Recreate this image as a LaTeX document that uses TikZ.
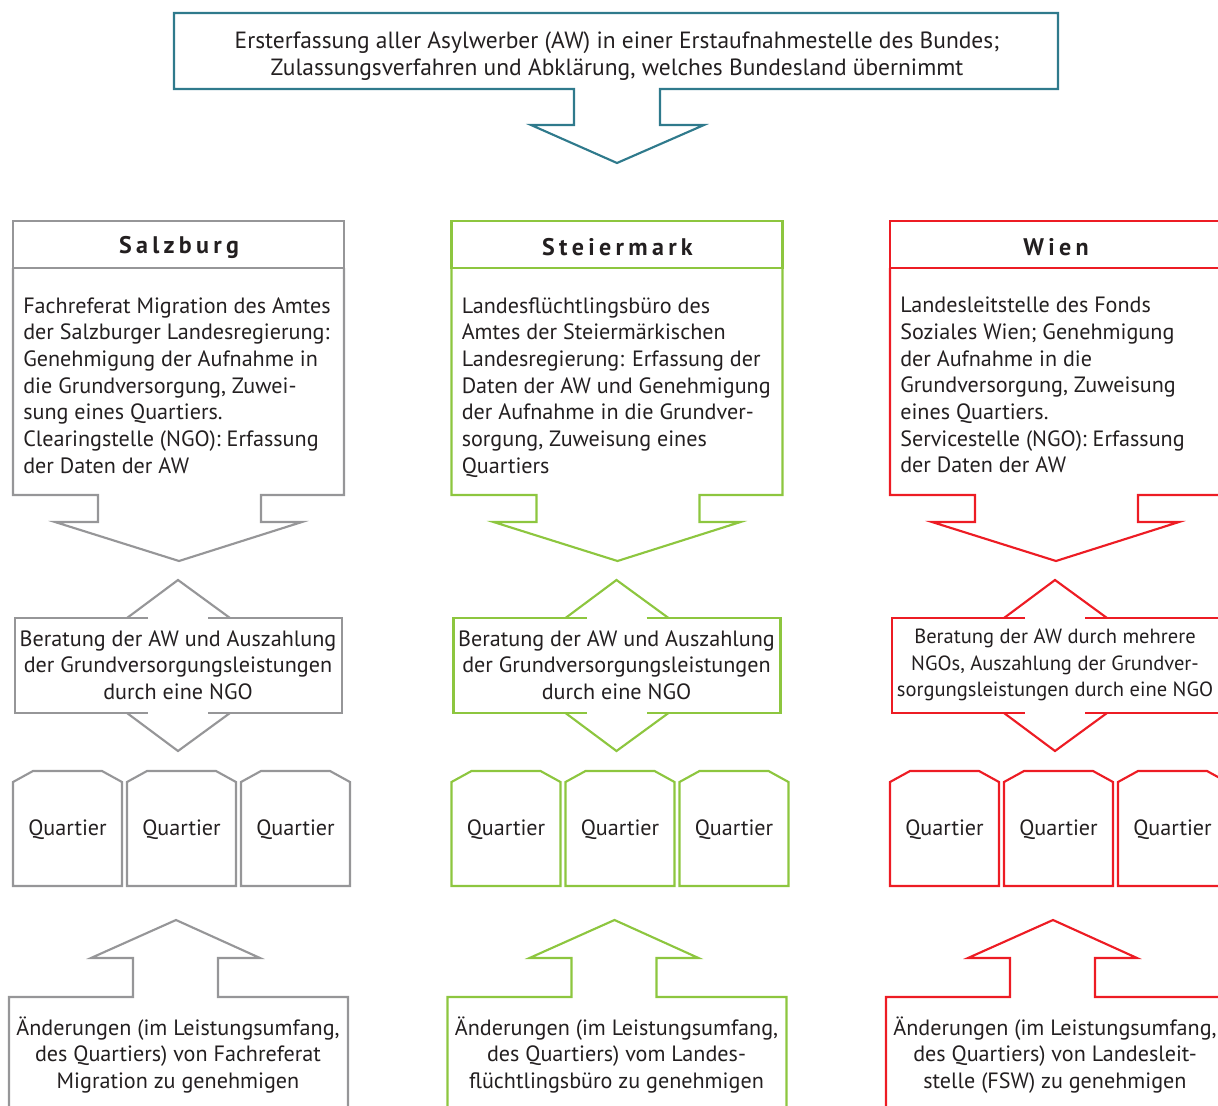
\documentclass[tikz,border=0pt]{standalone}
\usepackage{fontspec}
\setmainfont{PT Sans}
\newfontfamily\headfont[LetterSpace=18]{PT Sans}

\definecolor{awteal}{RGB}{47,122,140}
\definecolor{sbggray}{RGB}{150,150,152}
\definecolor{stmgreen}{RGB}{141,198,63}
\definecolor{wienred}{RGB}{237,28,36}
\definecolor{textgray}{RGB}{35,31,32}

\tikzset{
  outline/.style={line width=1.6pt},
  txt/.style={text=textgray, font=\fontsize{16.6}{20}\selectfont, inner sep=0pt, align=center},
  bodytxt/.style={txt, align=left, anchor=north west},
  headtxt/.style={text=textgray, inner sep=0pt, font=\headfont\bfseries\fontsize{18}{20}\selectfont},
}

\begin{document}
\begin{tikzpicture}[x=0.75pt,y=-0.75pt]
  \useasboundingbox (0,0) rectangle (1218,1106);
  \clip (0,0) rectangle (1218,1106);

  % Erstaufnahme des Bundes
  \node[txt, font=\fontsize{17.6}{20}\selectfont] (EA) at (617,56) {Ersterfassung aller Asylwerber (AW) in einer Erstaufnahmestelle des Bundes;\\Zulassungsverfahren und Abklärung, welches Bundesland übernimmt};
  \draw[outline, awteal] (174,13) -- (1058,13) -- (1058,89) -- (660,89) -- (660,125) -- (704,125) -- (617,163) -- (531,125) -- (574,125) -- (574,89) -- (174,89) -- cycle;

  % Salzburg
  \begin{scope}[color=sbggray]
    \node[headtxt] (sbg-head) at (179,247) {Salzburg};
    \draw[outline] (13,221) rectangle (344,268);
    \draw[outline] (13,268) -- (13,495) -- (98,495) -- (98,522) -- (55,522) -- (179,561) -- (302,522) -- (261,522) -- (261,495) -- (344,495) -- (344,268);
    \node[bodytxt] (sbg-amt) at (23,297) {Fachreferat Migration des Amtes\\der Salzburger Landesregierung:\\Genehmigung der Aufnahme in\\die Grundversorgung, Zuwei-\\sung eines Quartiers.\\Clearingstelle (NGO): Erfassung\\der Daten der AW};
    \draw[outline] (148,618) -- (15,618) -- (15,713) -- (148,713);
    \draw[outline] (208,618) -- (342,618) -- (342,713) -- (208,713);
    \draw[outline] (127,618) -- (178,580) -- (230,618);
    \draw[outline] (127,713) -- (178,751) -- (230,713);
    \node[txt] (sbg-ngo) at (178,665) {Beratung der AW und Auszahlung\\der Grundversorgungsleistungen\\durch eine NGO};
    \foreach \qx [count=\qi] in {13,127,241} {
      \draw[outline] (\qx,886) -- (\qx,782) -- (\qx+20,771) -- (\qx+89,771) -- (\qx+109,782) -- (\qx+109,886) -- cycle;
      \node[txt] (sbg-q\qi) at (\qx+54.5,830) {Quartier};
    }
    \draw[outline] (9,1115) -- (9,997) -- (133,997) -- (133,958) -- (91,958) -- (176,920) -- (260,958) -- (218,958) -- (218,997) -- (348,997) -- (348,1115);
    \node[txt] (sbg-aend) at (178,1055) {Änderungen (im Leistungsumfang,\\des Quartiers) von Fachreferat\\Migration zu genehmigen};
  \end{scope}

  % Steiermark
  \begin{scope}[shift={(438.5,0)}, color=stmgreen]
    \node[headtxt] (stm-head) at (179,247) {Steiermark};
    \draw[outline] (13,221) rectangle (344,268);
    \draw[outline] (13,268) -- (13,495) -- (98,495) -- (98,522) -- (55,522) -- (179,561) -- (302,522) -- (261,522) -- (261,495) -- (344,495) -- (344,268);
    \node[bodytxt] (stm-amt) at (23,297) {Landesflüchtlingsbüro des\\Amtes der Steiermärkischen\\Landesregierung: Erfassung der\\Daten der AW und Genehmigung\\der Aufnahme in die Grundver-\\sorgung, Zuweisung eines\\Quartiers};
    \draw[outline] (148,618) -- (15,618) -- (15,713) -- (148,713);
    \draw[outline] (208,618) -- (342,618) -- (342,713) -- (208,713);
    \draw[outline] (127,618) -- (178,580) -- (230,618);
    \draw[outline] (127,713) -- (178,751) -- (230,713);
    \node[txt] (stm-ngo) at (178,665) {Beratung der AW und Auszahlung\\der Grundversorgungsleistungen\\durch eine NGO};
    \foreach \qx [count=\qi] in {13,127,241} {
      \draw[outline] (\qx,886) -- (\qx,782) -- (\qx+20,771) -- (\qx+89,771) -- (\qx+109,782) -- (\qx+109,886) -- cycle;
      \node[txt] (stm-q\qi) at (\qx+54.5,830) {Quartier};
    }
    \draw[outline] (9,1115) -- (9,997) -- (133,997) -- (133,958) -- (91,958) -- (176,920) -- (260,958) -- (218,958) -- (218,997) -- (348,997) -- (348,1115);
    \node[txt] (stm-aend) at (178,1055) {Änderungen (im Leistungsumfang,\\des Quartiers) vom Landes-\\flüchtlingsbüro zu genehmigen};
  \end{scope}

  % Wien
  \begin{scope}[shift={(877,0)}, color=wienred]
    \node[headtxt] (wien-head) at (179,247) {Wien};
    \draw[outline] (13,221) rectangle (344,268);
    \draw[outline] (13,268) -- (13,495) -- (98,495) -- (98,522) -- (55,522) -- (179,561) -- (302,522) -- (261,522) -- (261,495) -- (344,495) -- (344,268);
    \node[bodytxt] (wien-amt) at (23,297) {Landesleitstelle des Fonds\\Soziales Wien; Genehmigung\\der Aufnahme in die\\Grundversorgung, Zuweisung\\eines Quartiers.\\Servicestelle (NGO): Erfassung\\der Daten der AW};
    \draw[outline] (148,618) -- (15,618) -- (15,713) -- (148,713);
    \draw[outline] (208,618) -- (342,618) -- (342,713) -- (208,713);
    \draw[outline] (127,618) -- (178,580) -- (230,618);
    \draw[outline] (127,713) -- (178,751) -- (230,713);
    \node[txt, font=\fontsize{15.4}{20}\selectfont] (wien-ngo) at (178,665) {Beratung der AW durch mehrere\\NGOs, Auszahlung der Grundver-\\sorgungsleistungen durch eine NGO};
    \foreach \qx [count=\qi] in {13,127,241} {
      \draw[outline] (\qx,886) -- (\qx,782) -- (\qx+20,771) -- (\qx+89,771) -- (\qx+109,782) -- (\qx+109,886) -- cycle;
      \node[txt] (wien-q\qi) at (\qx+54.5,830) {Quartier};
    }
    \draw[outline] (9,1115) -- (9,997) -- (133,997) -- (133,958) -- (91,958) -- (176,920) -- (260,958) -- (218,958) -- (218,997) -- (348,997) -- (348,1115);
    \node[txt] (wien-aend) at (178,1055) {Änderungen (im Leistungsumfang,\\des Quartiers) von Landesleit-\\stelle (FSW) zu genehmigen};
  \end{scope}
\end{tikzpicture}
\end{document}
